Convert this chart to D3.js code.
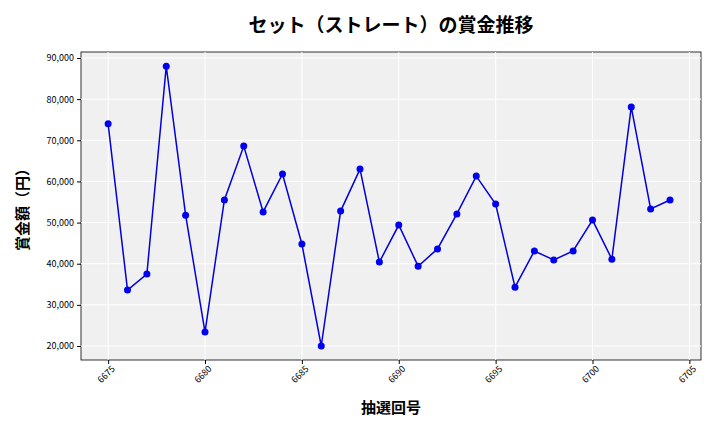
<!DOCTYPE html>
<html><head><meta charset="utf-8">
<script src="https://cdn.jsdelivr.net/npm/d3@7"></script>
<style>body{margin:0;background:#fff}</style></head>
<body><svg id="c" width="720" height="432"></svg>
<script>
const draws = d3.range(6675, 6705);
const prizes = [74000,33600,37500,88000,51800,23400,55500,68600,52600,61800,44800,20000,52800,63000,40400,49400,39400,43600,52100,61300,54500,34300,43100,40900,43100,50600,41100,78100,53300,55500];
const xTicks = [6675,6680,6685,6690,6695,6700,6705];
const yTicks = [20000,30000,40000,50000,60000,70000,80000,90000];
const font = "'Noto Sans CJK JP','Noto Sans',sans-serif";
const svg = d3.select("#c");
const L=81,R=701,T=52,B=360;
const x = d3.scaleLinear().domain([6673.6,6705.6]).range([L,R]);
const y = d3.scaleLinear().domain([16600,91460]).range([B,T]);
svg.append("rect").attr("x",L).attr("y",T).attr("width",R-L).attr("height",B-T).attr("fill","#f0f0f0").attr("stroke","#000").attr("stroke-width",0.8);
const g=svg.append("g");
xTicks.forEach(t=>g.append("line").attr("x1",x(t)).attr("x2",x(t)).attr("y1",T).attr("y2",B).attr("stroke","#fff").attr("stroke-width",1));
yTicks.forEach(t=>g.append("line").attr("x1",L).attr("x2",R).attr("y1",y(t)).attr("y2",y(t)).attr("stroke","#fff").attr("stroke-width",1));
const xa = svg.append("g").attr("transform",`translate(0,${B})`).call(d3.axisBottom(x).tickValues(xTicks).tickFormat(d3.format("d")).tickSize(4));
xa.select(".domain").remove();
xa.selectAll("text").attr("font-family",font).attr("font-size",9).attr("fill","#000").attr("text-anchor","end").attr("dx","-0.2em").attr("dy","0.5em").attr("transform","rotate(-45)");
const ya = svg.append("g").attr("transform",`translate(${L},0)`).call(d3.axisLeft(y).tickValues(yTicks).tickFormat(d3.format(",")).tickSize(4));
ya.select(".domain").remove();
ya.selectAll("text").attr("font-family",font).attr("font-size",9).attr("fill","#000");
const data = draws.map((d,i)=>[d,prizes[i]]);
svg.append("path").datum(data).attr("fill","none").attr("stroke","#0000dd").attr("stroke-width",1.5)
  .attr("d",d3.line().x(d=>x(d[0])).y(d=>y(d[1])));
svg.selectAll("circle").data(data).join("circle").attr("cx",d=>x(d[0])).attr("cy",d=>y(d[1])).attr("r",3.5).attr("fill","#0000ee");
svg.append("text").attr("x",391).attr("y",32).attr("text-anchor","middle").attr("font-family",font).attr("font-size",19).attr("font-weight","bold").text("セット（ストレート）の賞金推移");
svg.append("text").attr("x",391).attr("y",413).attr("text-anchor","middle").attr("font-family",font).attr("font-size",15).attr("font-weight","bold").text("抽選回号");
svg.append("text").attr("transform","translate(28,206) rotate(-90)").attr("text-anchor","middle").attr("font-family",font).attr("font-size",15).attr("font-weight","bold").text("賞金額（円）");
</script></body></html>
